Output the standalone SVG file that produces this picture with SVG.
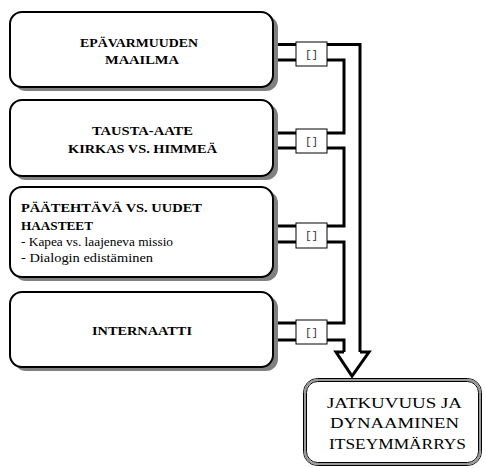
<svg xmlns="http://www.w3.org/2000/svg" width="486" height="468" viewBox="0 0 486 468">
  <style>
    .shadow { fill: #808080; stroke: none; }
    .box { fill: #ffffff; stroke: #000000; stroke-width: 2; }
    .title { font-weight: bold; font-size: 12.5px; fill: #000; }
    .body { font-size: 12px; fill: #000; }
    .result { font-size: 15px; fill: #000; }
    .tag { fill: #ffffff; stroke: #000000; stroke-width: 1; }
    .tagtext { font-size: 11px; fill: #333; }
    .wire { fill: none; stroke: #000000; stroke-width: 3; stroke-linejoin: miter; }
  </style>

  <!-- connectors: paired lines from each box joining into one hollow arrow -->
  <g id="connectors">
    <!-- left stubs -->
    <path class="wire" d="M278 44.5 H296 M278 60 H296"/>
    <path class="wire" d="M278 133 H296 M278 148 H296"/>
    <path class="wire" d="M278 226 H296 M278 242 H296"/>
    <path class="wire" d="M278 323 H296 M278 340 H296"/>
    <!-- outer shaft edge -->
    <path class="wire" d="M327 44.5 H360 V352"/>
    <!-- inner shaft edge, stepping between boxes -->
    <path class="wire" d="M327 60 H344 V133 H327"/>
    <path class="wire" d="M327 148 H344 V226 H327"/>
    <path class="wire" d="M327 242 H344 V323 H327"/>
    <path class="wire" d="M327 340 H344 V352"/>
    <!-- arrow head -->
    <path class="wire" d="M344 352 H336 L352 376 L369 352 H360"/>
    <!-- tags on the paired lines -->
    <g font-family="'Liberation Mono', 'Courier New', monospace">
      <rect class="tag" x="296" y="42" width="31" height="24"/>
      <text class="tagtext" x="311.5" y="58" text-anchor="middle">[]</text>
      <rect class="tag" x="296" y="129" width="31" height="24"/>
      <text class="tagtext" x="311.5" y="145" text-anchor="middle">[]</text>
      <rect class="tag" x="296" y="223" width="31" height="25"/>
      <text class="tagtext" x="311.5" y="239" text-anchor="middle">[]</text>
      <rect class="tag" x="296" y="320" width="31" height="24"/>
      <text class="tagtext" x="311.5" y="336" text-anchor="middle">[]</text>
    </g>
  </g>

  <g font-family="'Liberation Serif', 'Times New Roman', serif">
    <g id="epavarmuuden">
      <rect class="shadow" fill="#808080" x="14" y="16" width="264" height="75" rx="12"/>
      <rect class="box" x="10" y="12" width="263" height="75" rx="12"/>
      <text class="title" x="139" y="47" text-anchor="middle" textLength="118" lengthAdjust="spacingAndGlyphs">EPÄVARMUUDEN</text>
      <text class="title" x="142" y="63.5" text-anchor="middle" textLength="74" lengthAdjust="spacingAndGlyphs">MAAILMA</text>
    </g>

    <g id="tausta-aate">
      <rect class="shadow" fill="#808080" x="14" y="104" width="264" height="76" rx="12"/>
      <rect class="box" x="10" y="100" width="263" height="76" rx="12"/>
      <text class="title" x="142.5" y="135" text-anchor="middle" textLength="101" lengthAdjust="spacingAndGlyphs">TAUSTA-AATE</text>
      <text class="title" x="142.5" y="153" text-anchor="middle" textLength="149" lengthAdjust="spacingAndGlyphs">KIRKAS VS. HIMMEÄ</text>
    </g>

    <g id="paatehtava">
      <rect class="shadow" fill="#808080" x="14" y="191" width="264" height="90" rx="12"/>
      <rect class="box" x="10" y="187" width="263" height="90" rx="12"/>
      <text class="title" x="21" y="212" textLength="181" lengthAdjust="spacingAndGlyphs">PÄÄTEHTÄVÄ VS. UUDET</text>
      <text class="title" x="21" y="230" textLength="72" lengthAdjust="spacingAndGlyphs">HAASTEET</text>
      <text class="body" x="21" y="246" textLength="152" lengthAdjust="spacingAndGlyphs">- Kapea vs. laajeneva missio</text>
      <text class="body" x="21" y="262" textLength="132" lengthAdjust="spacingAndGlyphs">- Dialogin edistäminen</text>
    </g>

    <g id="internaatti">
      <rect class="shadow" fill="#808080" x="14" y="296" width="264" height="75" rx="12"/>
      <rect class="box" x="10" y="292" width="263" height="75" rx="12"/>
      <text class="title" x="142" y="335" text-anchor="middle" textLength="100" lengthAdjust="spacingAndGlyphs">INTERNAATTI</text>
    </g>

    <g id="jatkuvuus">
      <!-- double outline: thin black, grey band, thin black -->
      <rect x="303.5" y="378.5" width="178" height="87" rx="14" fill="#ffffff" stroke="#000000" stroke-width="1"/>
      <rect x="305" y="380" width="175" height="84" rx="12.5" fill="none" stroke="#9a9a9a" stroke-width="2"/>
      <rect x="306.5" y="381.5" width="172" height="81" rx="11" fill="none" stroke="#000000" stroke-width="1"/>
      <text class="result" x="394.5" y="408" text-anchor="middle" textLength="135" lengthAdjust="spacingAndGlyphs">JATKUVUUS JA</text>
      <text class="result" x="394.5" y="428" text-anchor="middle" textLength="129" lengthAdjust="spacingAndGlyphs">DYNAAMINEN</text>
      <text class="result" x="397.5" y="449" text-anchor="middle" textLength="137" lengthAdjust="spacingAndGlyphs">ITSEYMMÄRRYS</text>
    </g>
  </g>
</svg>
